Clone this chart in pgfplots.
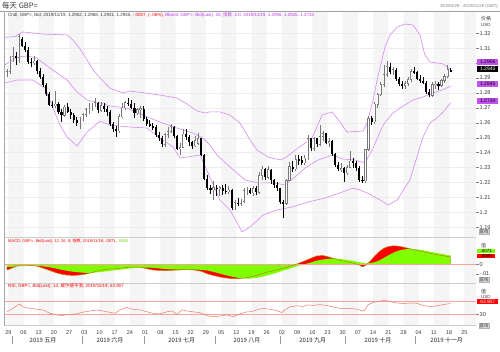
\documentclass[border=0pt]{standalone}
\usepackage{fontspec}
\setmainfont{Liberation Sans}
\newfontfamily\cjk{Noto Sans CJK SC}
\usepackage{pgfplots}
\pgfplotsset{compat=1.18}
\usepackage{pgfplotstable}

\definecolor{bandgray}{RGB}{245,245,245}
\definecolor{bbcol}{RGB}{214,140,245}
\definecolor{upgray}{RGB}{120,120,120}
\definecolor{mgreen}{RGB}{128,255,0}
\definecolor{mgreentxt}{RGB}{100,210,0}
\definecolor{mred}{RGB}{255,0,0}
\definecolor{mline}{RGB}{185,125,0}
\definecolor{rsicol}{RGB}{240,120,105}
\definecolor{refcol}{RGB}{245,165,155}
\definecolor{magbox}{RGB}{196,80,240}
\definecolor{magtxt}{RGB}{190,60,235}
\definecolor{txtgray}{RGB}{60,60,60}
\definecolor{sepgray}{RGB}{205,205,205}

\pgfplotstableread{
x o h l c
0 1.2920 1.2960 1.2905 1.2945
1 1.2945 1.3050 1.2930 1.3035
2 1.3035 1.3105 1.3010 1.3045
3 1.3045 1.3075 1.2990 1.3040
4 1.3040 1.3195 1.3000 1.3180
5 1.3160 1.3175 1.3105 1.3115
6 1.3115 1.3140 1.3075 1.3090
7 1.3090 1.3110 1.2995 1.3010
8 1.3010 1.3035 1.2975 1.3005
9 1.3005 1.3045 1.2985 1.3015
10 1.3015 1.3020 1.2930 1.2950
11 1.2950 1.2970 1.2895 1.2905
12 1.2905 1.2925 1.2840 1.2855
13 1.2855 1.2865 1.2780 1.2790
14 1.2790 1.2805 1.2715 1.2720
15 1.2720 1.2745 1.2700 1.2715
16 1.2715 1.2815 1.2700 1.2725
17 1.2725 1.2740 1.2660 1.2675
18 1.2675 1.2690 1.2605 1.2650
19 1.2650 1.2720 1.2640 1.2705
20 1.2705 1.2730 1.2665 1.2670
21 1.2670 1.2690 1.2625 1.2650
22 1.2650 1.2665 1.2600 1.2620
23 1.2620 1.2640 1.2580 1.2600
24 1.2600 1.2640 1.2560 1.2625
25 1.2625 1.2665 1.2610 1.2655
26 1.2655 1.2700 1.2640 1.2690
27 1.2690 1.2730 1.2660 1.2700
28 1.2700 1.2735 1.2680 1.2720
29 1.2720 1.2765 1.2705 1.2735
30 1.2735 1.2740 1.2665 1.2685
31 1.2685 1.2740 1.2675 1.2715
32 1.2715 1.2730 1.2675 1.2690
33 1.2690 1.2710 1.2645 1.2675
34 1.2675 1.2685 1.2580 1.2595
35 1.2595 1.2605 1.2540 1.2560
36 1.2560 1.2580 1.2505 1.2545
37 1.2545 1.2660 1.2535 1.2640
38 1.2640 1.2735 1.2630 1.2700
39 1.2700 1.2745 1.2685 1.2735
40 1.2735 1.2765 1.2710 1.2725
41 1.2725 1.2750 1.2690 1.2700
42 1.2700 1.2730 1.2630 1.2665
43 1.2665 1.2700 1.2650 1.2690
44 1.2690 1.2715 1.2630 1.2695
45 1.2695 1.2710 1.2615 1.2625
46 1.2625 1.2640 1.2580 1.2590
47 1.2590 1.2620 1.2570 1.2580
48 1.2580 1.2600 1.2555 1.2570
49 1.2570 1.2585 1.2505 1.2520
50 1.2520 1.2540 1.2480 1.2500
51 1.2500 1.2510 1.2440 1.2455
52 1.2455 1.2530 1.2440 1.2520
53 1.2520 1.2570 1.2500 1.2540
54 1.2540 1.2590 1.2530 1.2575
55 1.2575 1.2580 1.2495 1.2510
56 1.2510 1.2520 1.2420 1.2425
57 1.2425 1.2465 1.2385 1.2435
58 1.2435 1.2560 1.2430 1.2525
59 1.2525 1.2560 1.2485 1.2505
60 1.2505 1.2515 1.2445 1.2470
61 1.2470 1.2480 1.2425 1.2445
62 1.2445 1.2510 1.2440 1.2480
63 1.2460 1.2530 1.2450 1.2495
64 1.2495 1.2500 1.2375 1.2385
65 1.2385 1.2390 1.2215 1.2225
66 1.2225 1.2250 1.2150 1.2160
67 1.2160 1.2185 1.2120 1.2150
68 1.2150 1.2210 1.2080 1.2165
69 1.2165 1.2185 1.2110 1.2160
70 1.2160 1.2175 1.2110 1.2165
71 1.2165 1.2180 1.2115 1.2145
72 1.2145 1.2190 1.2120 1.2140
73 1.2140 1.2175 1.2120 1.2150
74 1.2150 1.2155 1.2015 1.2030
75 1.2030 1.2080 1.2015 1.2065
76 1.2065 1.2095 1.2040 1.2060
77 1.2060 1.2090 1.2040 1.2075
78 1.2075 1.2165 1.2060 1.2145
79 1.2145 1.2170 1.2115 1.2150
80 1.2150 1.2165 1.2120 1.2130
81 1.2130 1.2175 1.2110 1.2160
82 1.2160 1.2175 1.2115 1.2135
83 1.2135 1.2270 1.2125 1.2245
84 1.2245 1.2310 1.2215 1.2290
85 1.2290 1.2295 1.2215 1.2235
86 1.2235 1.2310 1.2225 1.2285
87 1.2285 1.2290 1.2190 1.2215
88 1.2215 1.2225 1.2165 1.2185
89 1.2185 1.2205 1.2145 1.2160
90 1.2160 1.2165 1.2055 1.2070
91 1.2070 1.2085 1.1960 1.2060
92 1.2060 1.2225 1.2050 1.2215
93 1.2215 1.2335 1.2210 1.2305
94 1.2305 1.2345 1.2270 1.2290
95 1.2290 1.2385 1.2280 1.2355
96 1.2355 1.2385 1.2320 1.2350
97 1.2350 1.2375 1.2315 1.2330
98 1.2330 1.2385 1.2315 1.2365
99 1.2365 1.2515 1.2350 1.2495
100 1.2495 1.2500 1.2410 1.2430
101 1.2430 1.2505 1.2410 1.2495
102 1.2495 1.2500 1.2440 1.2455
103 1.2455 1.2585 1.2445 1.2510
104 1.2510 1.2545 1.2475 1.2530
105 1.2530 1.2535 1.2455 1.2465
106 1.2465 1.2495 1.2440 1.2475
107 1.2475 1.2485 1.2380 1.2390
108 1.2390 1.2395 1.2305 1.2320
109 1.2320 1.2340 1.2275 1.2290
110 1.2290 1.2330 1.2270 1.2295
111 1.2295 1.2305 1.2205 1.2265
112 1.2265 1.2320 1.2250 1.2300
113 1.2300 1.2410 1.2295 1.2345
114 1.2345 1.2365 1.2300 1.2330
115 1.2330 1.2345 1.2280 1.2295
116 1.2295 1.2310 1.2205 1.2220
117 1.2220 1.2245 1.2195 1.2210
118 1.2210 1.2420 1.2195 1.2420
119 1.2420 1.2645 1.2410 1.2630
120 1.2630 1.2645 1.2585 1.2605
121 1.2605 1.2740 1.2595 1.2725
122 1.2725 1.2800 1.2700 1.2790
123 1.2790 1.2875 1.2780 1.2855
124 1.2855 1.2990 1.2840 1.2925
125 1.2925 1.3015 1.2910 1.2975
126 1.2975 1.3000 1.2925 1.2940
127 1.2940 1.2975 1.2920 1.2955
128 1.2955 1.2970 1.2880 1.2895
129 1.2895 1.2905 1.2845 1.2860
130 1.2860 1.2880 1.2830 1.2850
131 1.2850 1.2880 1.2825 1.2865
132 1.2865 1.2910 1.2850 1.2890
133 1.2890 1.2960 1.2875 1.2945
134 1.2945 1.2975 1.2925 1.2940
135 1.2940 1.2950 1.2885 1.2895
136 1.2895 1.2920 1.2865 1.2880
137 1.2880 1.2905 1.2860 1.2870
138 1.2870 1.2880 1.2790 1.2805
139 1.2805 1.2830 1.2770 1.2785
140 1.2785 1.2875 1.2770 1.2855
141 1.2855 1.2880 1.2825 1.2860
142 1.2860 1.2875 1.2820 1.2850
143 1.2850 1.2895 1.2840 1.2885
144 1.2885 1.2925 1.2870 1.2910
145 1.2910 1.2990 1.2900 1.2955
146 1.2952 1.2968 1.2941 1.2945
}\candles

\pgfplotstableread{
x y
-0.6 1.3172
2.7 1.3179
5.3 1.3209
11.9 1.3195
19.8 1.3189
21.8 1.3155
24.1 1.3095
26.4 1.3021
28.4 1.2954
30.7 1.2900
33.9 1.2833
38.2 1.2800
40.5 1.2813
45.5 1.2800
50.4 1.2786
56.0 1.2766
59.3 1.2726
62.6 1.2679
65.2 1.2666
66.8 1.2673
70.1 1.2673
73.4 1.2652
76.7 1.2599
80.0 1.2485
82.3 1.2418
85.9 1.2371
89.9 1.2351
91.5 1.2364
95.8 1.2431
100.4 1.2498
103.7 1.2652
107.0 1.2673
109.6 1.2605
111.9 1.2538
117.2 1.2545
118.5 1.2599
120.5 1.2753
121.8 1.2887
124.4 1.3108
126.1 1.3189
128.4 1.3242
131.0 1.3262
133.6 1.3256
135.9 1.3189
137.5 1.3055
139.2 1.3008
143.5 1.2995
146 1.2956
}\bbup

\pgfplotstableread{
x y
-0.6 1.2988
3.4 1.3041
6.6 1.3048
9.9 1.3034
14.2 1.2967
19.8 1.2887
23.1 1.2807
26.4 1.2753
30.7 1.2733
33.9 1.2713
39.5 1.2699
44.8 1.2652
50.4 1.2605
56.0 1.2565
61.2 1.2532
64.5 1.2498
66.8 1.2451
69.1 1.2385
73.4 1.2304
78.4 1.2217
82.6 1.2197
88.2 1.2197
91.5 1.2183
94.8 1.2237
98.1 1.2297
102.4 1.2351
107.3 1.2385
110.3 1.2358
114.5 1.2351
117.8 1.2331
120.5 1.2431
123.8 1.2585
126.7 1.2659
129.3 1.2699
133.6 1.2753
136.9 1.2773
140.2 1.2800
143.2 1.2820
146 1.2845
}\bbmid

\pgfplotstableread{
x y
-0.6 1.2867
3.4 1.2887
8.6 1.2887
12.6 1.2833
15.2 1.2699
17.5 1.2585
19.8 1.2505
23.1 1.2445
26.4 1.2538
30.7 1.2612
33.9 1.2585
40.5 1.2572
46.1 1.2565
50.4 1.2498
54.7 1.2438
57.0 1.2364
59.3 1.2371
63.6 1.2384
66.8 1.2237
70.1 1.2083
73.4 1.2016
77.4 1.1869
80.0 1.1902
82.6 1.1949
84.3 1.1982
88.9 1.2016
93.8 1.2036
99.1 1.2069
104.7 1.2096
109.6 1.2130
113.9 1.2163
116.2 1.2150
118.5 1.2130
122.8 1.2083
125.4 1.2049
128.4 1.2083
132.6 1.2217
136.9 1.2505
139.2 1.2599
141.5 1.2632
143.5 1.2672
146 1.2734
}\bblow

\pgfplotstableread{
x m s
0 -0.0060 -0.0028
2 -0.0035 -0.0025
4 -0.0010 -0.0020
6 -0.0008 -0.0017
8 -0.0012 -0.0016
10 -0.0020 -0.0017
12 -0.0040 -0.0022
14 -0.0062 -0.0030
16 -0.0085 -0.0042
18 -0.0102 -0.0056
20 -0.0112 -0.0068
22 -0.0114 -0.0077
24 -0.0110 -0.0084
26 -0.0100 -0.0088
28 -0.0085 -0.0087
30 -0.0068 -0.0083
32 -0.0055 -0.0076
34 -0.0048 -0.0068
36 -0.0045 -0.0060
38 -0.0038 -0.0052
40 -0.0030 -0.0045
42 -0.0028 -0.0038
44 -0.0030 -0.0034
46 -0.0045 -0.0034
48 -0.0058 -0.0036
50 -0.0063 -0.0042
52 -0.0065 -0.0048
54 -0.0062 -0.0052
56 -0.0060 -0.0054
58 -0.0056 -0.0055
60 -0.0055 -0.0055
62 -0.0060 -0.0054
64 -0.0072 -0.0057
66 -0.0098 -0.0064
68 -0.0115 -0.0078
70 -0.0130 -0.0095
72 -0.0140 -0.0112
74 -0.0148 -0.0127
76 -0.0148 -0.0138
78 -0.0142 -0.0146
80 -0.0132 -0.0147
82 -0.0115 -0.0140
84 -0.0095 -0.0128
86 -0.0078 -0.0112
88 -0.0065 -0.0095
90 -0.0045 -0.0075
92 -0.0030 -0.0055
94 -0.0012 -0.0035
96 0.0010 -0.0015
98 0.0035 0.0002
100 0.0062 0.0018
102 0.0086 0.0038
104 0.0090 0.0050
106 0.0075 0.0058
108 0.0055 0.0060
110 0.0038 0.0054
112 0.0025 0.0045
114 0.0012 0.0035
116 -0.0008 0.0022
117 -0.0026 0.0015
118 -0.0012 0.0010
119.5 0.0030 0.0012
121 0.0085 0.0022
122.5 0.0130 0.0040
124 0.0165 0.0065
125.5 0.0183 0.0092
127 0.0190 0.0117
128.5 0.0188 0.0137
130 0.0180 0.0150
132 0.0165 0.0158
134 0.0150 0.0156
136 0.0137 0.0148
138 0.0122 0.0138
140 0.0108 0.0125
142 0.0097 0.0113
144 0.0086 0.0102
146 0.0076 0.0090
}\macd

\pgfplotstableread{
x r
0.1 38
2.0 49
3.7 59.5
4.3 62.7
5.3 54
7.6 49
9.9 46
11.9 43.7
14.2 33
16.5 28
18.2 25.6
19.8 30
21.4 28
23.4 33
25.7 38
28.0 41.5
29.7 43.7
30.7 42
33.0 38
35.6 33
37.2 44
39.5 52
41.5 46
43.8 44
46.1 38
48.1 33
50.4 31
52.7 38
54.3 40.5
56.0 30
57.6 44
59.3 40.5
61.2 38
63.6 35
65.9 25.6
67.8 22.4
70.1 24.6
72.4 28
74.4 22.4
76.7 31
79.0 38
80.0 38
82.3 44
84.3 49
86.6 46
88.9 41.5
90.5 35.5
91.5 44
93.2 54
95.5 57
97.4 55
99.1 60
100.7 58
103.0 61
105.7 57
107.9 52
110.3 48
112.9 49
115.2 46
116.9 41
117.8 43
118.8 60
120.5 68
122.8 72
124.4 75
126.1 70
128.4 66
130.3 64
132.6 66
134.9 65
136.9 58
139.2 55
140.9 56
143.2 60
145.0 63
146 63.9
}\rsi

\pgfplotsset{
  panel/.style={scale only axis, width=471bp, xmin=-0.592, xmax=154.34,
    anchor=south west,
    axis line style={draw=none}, xtick=\empty, ytick=\empty,
    scaled y ticks=false, scaled x ticks=false,
    /pgf/number format/assume math mode=true,
    tick style={draw=gray, line width=0.4bp}, tick align=outside,
    major tick length=2.5bp,
    ytick pos=right, yticklabel pos=right,
    yticklabel style={font=\fontsize{5.6}{6}\selectfont, text=txtgray,
      anchor=west, inner sep=0pt, xshift=1bp}},
}

\begin{document}
\begin{tikzpicture}
\fill[white] (0bp,0bp) rectangle (500bp,352bp);

% background week bands + day labels
\begin{axis}[panel, at={(5bp,26bp)}, anchor=south west, height=314bp, ymin=0, ymax=1,
  xtick={0.5,5.5,...,150.5},
  xticklabels={29,06,13,20,27,03,10,17,24,01,08,15,22,29,05,12,19,26,02,09,16,23,30,07,14,21,28,04,11,18,25},
  xtick style={draw=none},
  xticklabel style={font=\fontsize{5.5}{6}\selectfont, text=txtgray, anchor=north, inner sep=0pt, yshift=-1.8bp}]
\addplot[ybar interval, fill=bandgray, draw=none] coordinates {
(0.5,1) (5.5,0) (10.5,1) (15.5,0) (20.5,1) (25.5,0) (30.5,1) (35.5,0)
(40.5,1) (45.5,0) (50.5,1) (55.5,0) (60.5,1) (65.5,0) (70.5,1) (75.5,0)
(80.5,1) (85.5,0) (90.5,1) (95.5,0) (100.5,1) (105.5,0) (110.5,1) (115.5,0)
(120.5,1) (125.5,0) (130.5,1) (135.5,0) (140.5,1) (145.5,0) (150.5,1) (155.5,0)};
\end{axis}

% main price panel
\begin{axis}[panel, at={(5bp,115bp)}, anchor=south west, height=225bp, ymin=1.183472, ymax=1.334276,
  ytick={1.19,1.2,1.21,1.22,1.23,1.24,1.25,1.26,1.27,1.28,1.29,1.3,1.31,1.32},
  yticklabels={1.19,1.2,1.21,1.22,1.23,1.24,1.25,1.26,1.27,1.28,1.29,,1.31,1.32},
  ymajorgrids, grid style={color=black!7, line width=0.4bp}]
\addplot[bbcol, line width=0.6bp] table[x=x,y=y] {\bbup};
\addplot[bbcol, line width=0.6bp] table[x=x,y=y] {\bbmid};
\addplot[bbcol, line width=0.6bp] table[x=x,y=y] {\bblow};
\addplot[draw=none, mark=none,
  restrict expr to domain={\thisrow{c}-\thisrow{o}}{0:1},
  error bars/.cd, y dir=plus, y explicit, error mark=none,
  error bar style={draw=upgray, line width=0.5bp}]
  table[x=x, y=l, y error expr={\thisrow{h}-\thisrow{l}}] {\candles};
\addplot[draw=none, mark=none,
  restrict expr to domain={\thisrow{c}-\thisrow{o}}{-1:-0.00001},
  error bars/.cd, y dir=plus, y explicit, error mark=none,
  error bar style={draw=black, line width=0.5bp}]
  table[x=x, y=l, y error expr={\thisrow{h}-\thisrow{l}}] {\candles};
\addplot[draw=none, mark=none,
  restrict expr to domain={\thisrow{c}-\thisrow{o}}{0:1},
  error bars/.cd, y dir=both, y explicit, error mark=none,
  error bar style={draw=upgray, line width=2.2bp}]
  table[x=x, y expr={(\thisrow{o}+\thisrow{c})/2},
        y error expr={abs(\thisrow{o}-\thisrow{c})/2+0.00025}] {\candles};
\addplot[draw=none, mark=none,
  restrict expr to domain={\thisrow{c}-\thisrow{o}}{0:1},
  error bars/.cd, y dir=both, y explicit, error mark=none,
  error bar style={draw=white, line width=1.0bp}]
  table[x=x, y expr={(\thisrow{o}+\thisrow{c})/2},
        y error expr={max(abs(\thisrow{o}-\thisrow{c})/2-0.0002,0)}] {\candles};
\addplot[draw=none, mark=none,
  restrict expr to domain={\thisrow{c}-\thisrow{o}}{-1:-0.00001},
  error bars/.cd, y dir=both, y explicit, error mark=none,
  error bar style={draw=black, line width=2.1bp}]
  table[x=x, y expr={(\thisrow{o}+\thisrow{c})/2},
        y error expr={max(abs(\thisrow{o}-\thisrow{c})/2,0.0003)}] {\candles};
\end{axis}

% MACD panel
\begin{axis}[panel, at={(5bp,69bp)}, anchor=south west, height=45bp, ymin=-0.01928, ymax=0.02711,
  ytick={-0.01,0}, yticklabels={-.01,0}]
\addplot[fill=mred, draw=none] table[x=x,y=m] {\macd} \closedcycle;
\addplot[fill=mgreen, draw=none] table[x=x,y=s] {\macd} \closedcycle;
\addplot[refcol, line width=0.8bp] coordinates {(-1,0) (156,0)};
\addplot[mline, line width=0.5bp] table[x=x,y=m] {\macd};
\end{axis}

% RSI panel
\begin{axis}[panel, at={(5bp,27bp)}, anchor=south west, height=42bp, ymin=-3.97, ymax=129.37,
  ytick={30}, yticklabels={30}]
\addplot[refcol, line width=0.8bp] coordinates {(-1,70) (156,70)};
\addplot[refcol, line width=0.8bp] coordinates {(-1,30) (156,30)};
\addplot[rsicol, line width=0.5bp] table[x=x,y=r] {\rsi};
\end{axis}

% frame and separators
\draw[gray!75, line width=0.6bp] (0bp,340.5bp) -- (500bp,340.5bp);
\draw[gray!70, line width=0.7bp] (4.5bp,340.5bp) -- (4.5bp,26bp);
\draw[sepgray, line width=0.5bp] (4.5bp,114.5bp) -- (476bp,114.5bp);
\draw[sepgray, line width=0.5bp] (4.5bp,69bp) -- (476bp,69bp);
\draw[sepgray, line width=0.5bp] (4.5bp,26.5bp) -- (476bp,26.5bp);

% header
\node[anchor=west, inner sep=0pt, font=\cjk\fontsize{7.5}{8}\selectfont, text=txtgray] at (2bp,346bp) {每天 GBP=};
\node[anchor=east, inner sep=0pt, font=\fontsize{4.3}{5}\selectfont, text=gray] at (498bp,346bp) {2019/4/29 - 2019/11/29 (GMT)};
\node[anchor=west, inner sep=0pt, font=\fontsize{4.5}{5}\selectfont] at (8bp,336.5bp)
 {\textcolor{txtgray}{Cndl, GBP=, Bid, 2019/11/19, 1.2952, 1.2968, 1.2941, 1.2945, }\textcolor{red}{-.0007, (-.06\%), }\textcolor{magtxt}{Bband, GBP=, Bid(Last), 20, {\cjk 指数}, 2.0, 2019/11/19, 1.2956, 1.2845, 1.2734}};

% right labels main panel
\node[anchor=west, inner sep=0pt, font=\cjk\fontsize{5}{5}\selectfont, text=txtgray] at (481bp,333bp) {价格};
\node[anchor=west, inner sep=0pt, font=\fontsize{4.5}{5}\selectfont, text=txtgray] at (481bp,327bp) {USD};
\node[anchor=west, fill=magbox, text=black, inner sep=0.3bp, minimum width=21bp, minimum height=5.4bp, font=\fontsize{5}{5}\selectfont] at (477bp,290bp) {1.2956};
\node[anchor=west, fill=black, text=white, inner sep=0.3bp, minimum width=21bp, minimum height=5.4bp, font=\fontsize{5}{5}\selectfont] at (477bp,283bp) {1.2945};
\node[anchor=west, fill=magbox, text=black, inner sep=0.3bp, minimum width=21bp, minimum height=5.4bp, font=\fontsize{5}{5}\selectfont] at (477bp,268bp) {1.2845};
\node[anchor=west, fill=magbox, text=black, inner sep=0.3bp, minimum width=21bp, minimum height=5.4bp, font=\fontsize{5}{5}\selectfont] at (477bp,251bp) {1.2734};
\node[anchor=west, fill=gray!25, draw=gray!60, line width=0.3bp, text=txtgray, inner sep=0.4bp, font=\cjk\fontsize{4.5}{5}\selectfont] at (479bp,120bp) {直线};

% MACD labels
\node[anchor=west, inner sep=0pt, font=\fontsize{4.1}{5}\selectfont] at (8bp,111bp)
 {\textcolor{red}{MACD, GBP=, Bid(Last), 12, 26, 9, {\cjk 指数}, 2019/11/19, .0071, }\textcolor{mgreentxt}{.0065}};
\node[anchor=west, inner sep=0pt, font=\cjk\fontsize{5}{5}\selectfont, text=txtgray] at (481bp,106bp) {值};
\node[anchor=west, fill=mgreen, text=black, inner sep=0.3bp, minimum width=18bp, minimum height=4.8bp, font=\fontsize{4.5}{5}\selectfont] at (477bp,101bp) {.0071};
\node[anchor=west, fill=mred, text=black, inner sep=0.3bp, minimum width=18bp, minimum height=4.8bp, font=\fontsize{4.5}{5}\selectfont] at (477bp,96bp) {.0065};
\node[anchor=west, fill=gray!25, draw=gray!60, line width=0.3bp, text=txtgray, inner sep=0.4bp, font=\cjk\fontsize{4.5}{5}\selectfont] at (479bp,72bp) {直线};

% RSI labels
\node[anchor=west, inner sep=0pt, font=\fontsize{4.5}{5}\selectfont, text=red] at (8bp,66bp)
 {RSI, GBP=, Bid(Last), 14, {\cjk 威尔德平滑}, 2019/11/19, 63.907};
\node[anchor=west, inner sep=0pt, font=\cjk\fontsize{5}{5}\selectfont, text=txtgray] at (481bp,60bp) {值};
\node[anchor=west, inner sep=0pt, font=\fontsize{4.5}{5}\selectfont, text=txtgray] at (481bp,55bp) {USD};
\node[anchor=west, fill=mred, text=white, inner sep=0.3bp, minimum width=21bp, minimum height=5bp, font=\fontsize{4.8}{5}\selectfont] at (477bp,50bp) {63.907};
\node[anchor=west, fill=gray!25, draw=gray!60, line width=0.3bp, text=txtgray, inner sep=0.4bp, font=\cjk\fontsize{4.5}{5}\selectfont] at (479bp,26bp) {直线};

% month row
\foreach \px in {12.7,82.7,144.3,215,280.7,345,415}
  \draw[gray!80, line width=0.5bp] (\px bp,8bp) -- (\px bp,16bp);
\foreach \px/\m in {43/五月,110/六月,181.7/七月,247/八月,312.7/九月,378/十月,446.7/十一月}
  \node[inner sep=0pt, font=\cjk\fontsize{6}{7}\selectfont, text=black!85] at (\px bp,12bp) {2019 \m};

\pgfresetboundingbox
\useasboundingbox (0bp,0bp) rectangle (500bp,352bp);
\end{tikzpicture}
\end{document}
